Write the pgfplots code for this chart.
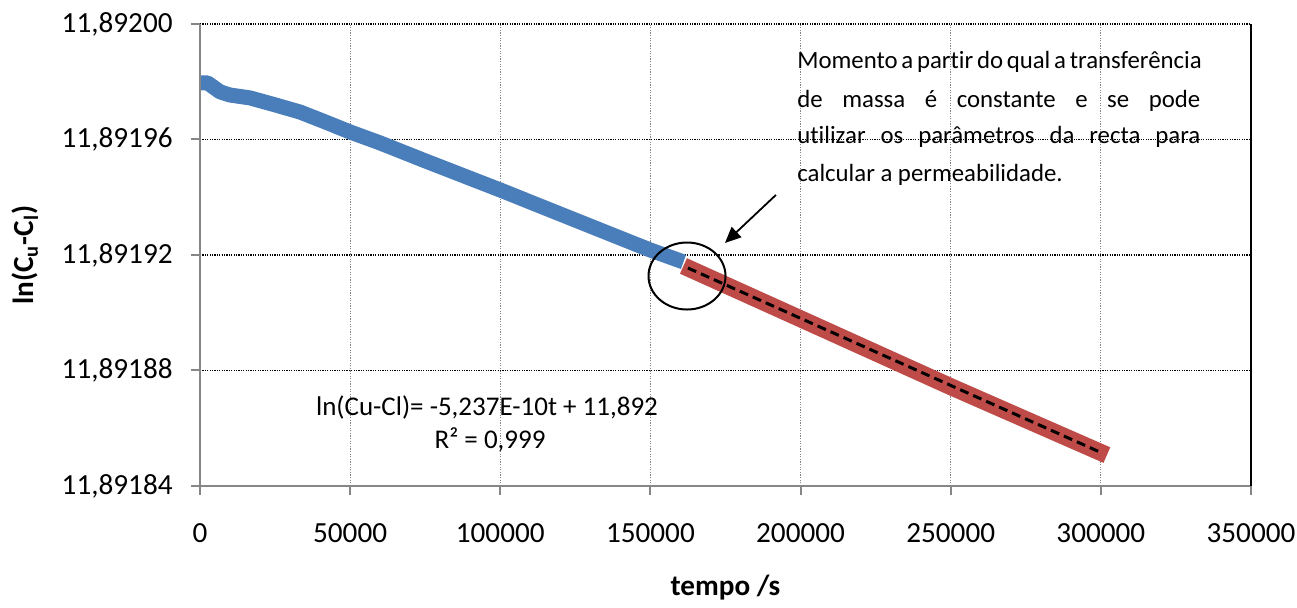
\documentclass[border=0pt]{standalone}
\usepackage{pgfplots}
\pgfplotsset{compat=1.18}
\usepackage{pgfplotstable}
\usepackage{fontspec}
\setmainfont{Carlito}[Ligatures=NoCommon]
\usetikzlibrary{arrows.meta}

\definecolor{xblue}{RGB}{74,126,187}
\definecolor{xred}{RGB}{190,75,72}
\definecolor{xaxis}{RGB}{134,134,134}

% ln(Cu-Cl) values all begin with 11.89; keep the full values and map them
% through a string transformation for precision (TeX's arithmetic is too coarse)
\def\lnstrip 11.89#1\relax{\edef\pgfmathresult{0.#1}}

\pgfplotstableread{
x y
0 11.8919796
2500 11.8919796
4000 11.8919785
6667 11.8919765
10000 11.8919754
16667 11.8919744
25000 11.8919720
33333 11.8919695
41667 11.8919661
50000 11.8919626
60000 11.8919588
75000 11.8919526
100000 11.8919425
130000 11.8919300
150000 11.8919217
161000 11.8919176
}\blueseries

\pgfplotstableread{
x y
161000 11.8919162
200000 11.8918979
250000 11.8918744
302000 11.8918507
}\redseries

\pgfplotstableread{
x y
162500 11.8919155
300000 11.8918516
}\fitline

\begin{document}
\begin{tikzpicture}
\begin{axis}[
  scale only axis,
  width=525.5pt, height=231pt,
  xmin=0, xmax=350000,
  ymin=11.89184, ymax=11.89200,
  y coord trafo/.code={\lnstrip#1\relax},
  xtick={0,50000,100000,150000,200000,250000,300000,350000},
  ytick={11.89184,11.89188,11.89192,11.89196,11.89200},
  yticklabels={{11,89184},{11,89188},{11,89192},{11,89196},{11,89200}},
  scaled x ticks=false,
  /pgf/number format/fixed,
  /pgf/number format/1000 sep={},
  /pgf/number format/assume math mode=true,
  tick label style={font=\fontsize{14.6}{17}\selectfont, text=black},
  xticklabel style={inner sep=0pt, yshift=-14pt},
  yticklabel style={inner sep=0pt, xshift=-9pt},
  tick align=outside,
  xtick pos=bottom, ytick pos=left,
  major tick length=4.5pt,
  major tick style={xaxis, line width=1pt},
  axis line style={draw=none},
  grid=major,
  major x grid style={xaxis, line width=0.6pt, dash pattern=on 0.6pt off 0.7pt},
  major y grid style={black, line width=0.6pt, dash pattern=on 0.6pt off 0.6pt},
  clip=false,
  every axis x label/.style={at={(rel axis cs:0.5,-0.2208)}, anchor=center},
  every axis y label/.style={at={(rel axis cs:-0.1665,0.5)}, anchor=center, rotate=90},
  xlabel={\fontsize{14.6}{17}\selectfont\bfseries tempo /s},
  ylabel={\fontsize{14.6}{17}\selectfont\bfseries ln(C\textsubscript{u}-C\textsubscript{l})},
]
\addplot[xblue, line width=7.5pt, line cap=butt, line join=round] table[x=x,y=y] {\blueseries};
\addplot[xred, line width=8.5pt, line cap=butt, line join=round] table[x=x,y=y] {\redseries};
\addplot[black, line width=1.5pt, dash pattern=on 4.5pt off 2.6pt] table[x=x,y=y] {\fitline};

% axis lines
\draw[xaxis, line width=1pt] (rel axis cs:0,1) -- (rel axis cs:0,0) -- (rel axis cs:1,0);
\draw[black, line width=0.7pt] (rel axis cs:1,0) -- (rel axis cs:1,1);

% circle and arrow
\draw[black, line width=1pt] (rel axis cs:0.4634,0.4545) ellipse [x radius=19.25pt, y radius=16.75pt];
\draw[black, line width=0.9pt, -{Triangle[length=8pt,width=7pt]}] (rel axis cs:0.548,0.630) -- (rel axis cs:0.4995,0.526);

% annotation text
\begin{scope}[every node/.style={inner sep=0pt, anchor=base west, font=\fontsize{12.4}{14}\selectfont}]
\node at (rel axis cs:0.5680,0.9026) {\makebox[201.5pt][s]{Momento a partir do qual a transferência}};
\node at (rel axis cs:0.5680,0.8203) {\makebox[201.5pt][s]{de massa é constante e se pode}};
\node at (rel axis cs:0.5680,0.7403) {\makebox[201.5pt][s]{utilizar os parâmetros da recta para}};
\node at (rel axis cs:0.5680,0.6580) {calcular a permeabilidade.};
\end{scope}

% trendline equation
\begin{scope}[every node/.style={inner sep=0pt, anchor=base, font=\fontsize{13.5}{16}\selectfont}]
\node at (rel axis cs:0.2731,0.1515) {ln(Cu-Cl)= -5,237E-10t + 11,892};
\node at (rel axis cs:0.2760,0.0801) {R² = 0,999};
\end{scope}
\end{axis}
\path[use as bounding box] (-100pt,-57.5pt) rectangle (548.5pt,243pt);
\end{tikzpicture}
\end{document}
